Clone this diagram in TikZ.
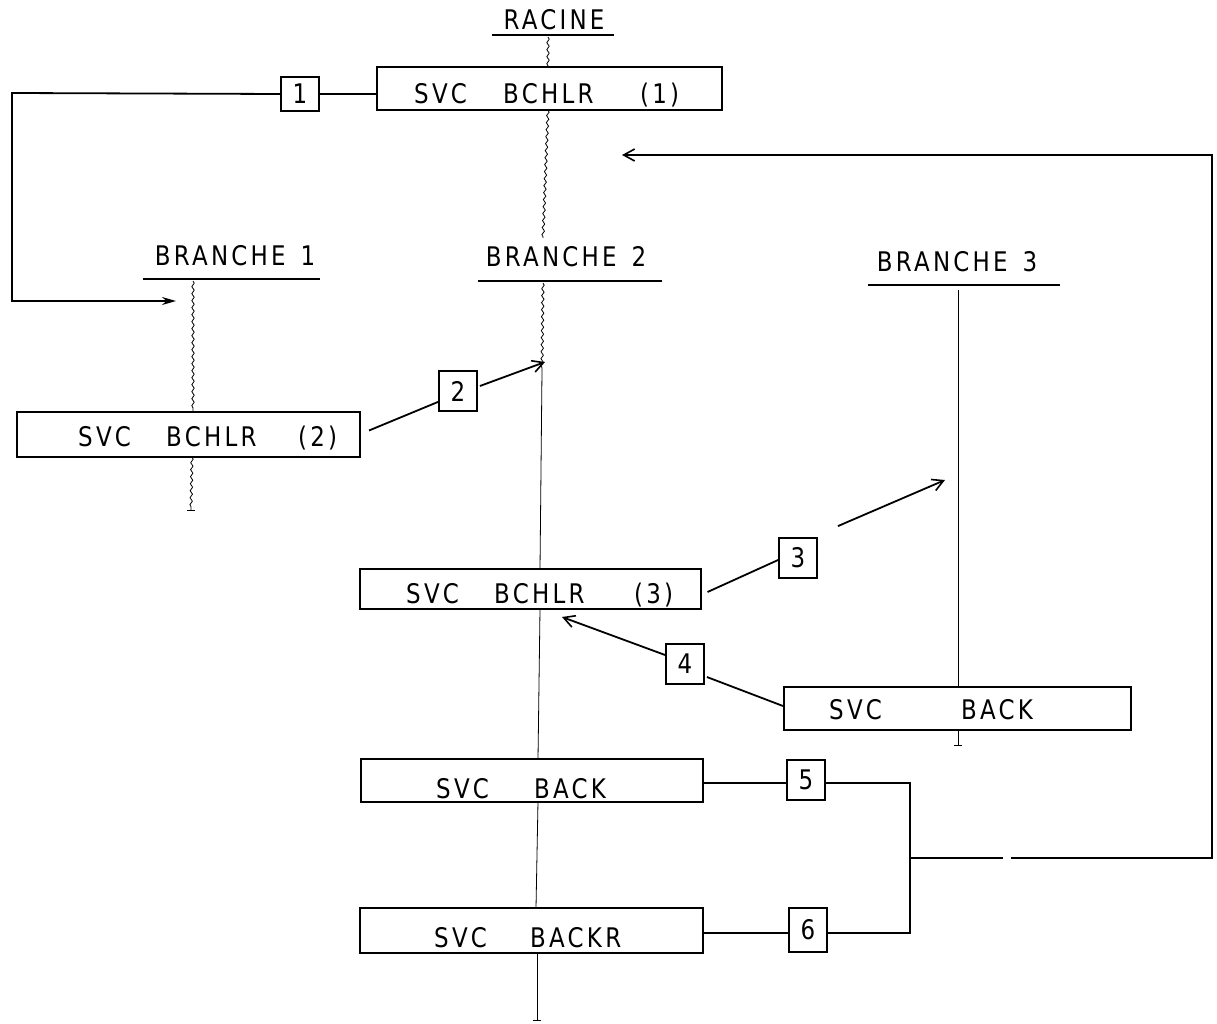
\documentclass[tikz,border=0pt]{standalone}
\usepackage{fontspec}
\newfontfamily\plotfont{DejaVu Sans}[FakeStretch=0.85, LetterSpace=12]
\usetikzlibrary{arrows.meta,decorations.pathmorphing,calc}
\begin{document}
\begin{tikzpicture}[x=1pt,y=-1pt,
  svcbox/.style={draw, line width=2pt, minimum width=345pt, minimum height=43pt, inner sep=0pt},
  numbox/.style={draw, line width=1.8pt, minimum width=38pt, minimum height=40pt, inner sep=0pt,
    font=\plotfont\fontsize{27}{27}\selectfont},
  word/.style={anchor=base west, inner sep=0pt, font=\plotfont\fontsize{27}{27}\selectfont},
  lbl/.style={inner sep=0pt, font=\plotfont\fontsize{27}{27}\selectfont},
  uline/.style={line width=2.2pt},
  conn/.style={line width=1.8pt},
  life/.style={line width=0.8pt},
  wavy/.style={life, decorate, decoration={snake, amplitude=1.2pt, segment length=7pt}},
  openarrow/.style={-{Straight Barb[length=11pt,width=12pt,line width=1.6pt]}},
  fillarrow/.style={-{Stealth[length=14pt,width=8pt]}}
]
\useasboundingbox (0,0) rectangle (1217,1024);

% ---------- labels ----------
\node[lbl] (racine) at (554,20) {RACINE};
\coordinate (racL) at (492,35); \coordinate (racR) at (614,35);
\draw[uline] (racL) -- (racR);

\node[lbl] (br1) at (235,256) {BRANCHE\hspace{0.55em}1};
\coordinate (br1L) at (143,279); \coordinate (br1R) at (320,279);
\draw[uline] (br1L) -- (br1R);

\node[lbl] (br2) at (566,257) {BRANCHE\hspace{0.55em}2};
\coordinate (br2L) at (478,281); \coordinate (br2R) at (662,281);
\draw[uline] (br2L) -- (br2R);

\node[lbl] (br3) at (957,262) {BRANCHE\hspace{0.55em}3};
\coordinate (br3L) at (868,285); \coordinate (br3R) at (1060,285);
\draw[uline] (br3L) -- (br3R);

% ---------- SVC boxes ----------
\node[svcbox] (b1) at (549.5,88.5) {};
\node[word] (b1a) at (414,104) {SVC};
\node[word] (b1b) at (503,104) {BCHLR};
\node[word] (b1c) at (640,104) {(1)};

\node[svcbox, minimum width=343pt, minimum height=45pt] (b2) at (188.5,434.5) {};
\node[word] (b2a) at (78,446) {SVC};
\node[word] (b2b) at (166,446) {BCHLR};
\node[word] (b2c) at (298,446) {(2)};

\node[svcbox, minimum width=341pt, minimum height=40pt] (b3) at (530,589) {};
\node[word] (b3a) at (406,603) {SVC};
\node[word] (b3b) at (494,603) {BCHLR};
\node[word] (b3c) at (634,603) {(3)};

\node[svcbox, minimum width=347pt] (bk3) at (957.5,708) {};
\node[word] (bk3a) at (829,719) {SVC};
\node[word] (bk3b) at (961,719) {BACK};

\node[svcbox, minimum width=342pt] (bk2) at (532,780) {};
\node[word] (bk2a) at (436,798) {SVC};
\node[word] (bk2b) at (534,798) {BACK};

\node[svcbox, minimum width=343pt, minimum height=45pt] (bkr) at (531,930) {};
\node[word] (bkra) at (434,947) {SVC};
\node[word] (bkrb) at (530,947) {BACKR};

% ---------- numbered boxes ----------
\node[numbox, minimum width=38pt, minimum height=34pt] (n1) at (300,94) {1};
\node[numbox] (n2) at (458,391) {2};
\node[numbox] (n3) at (798,558) {3};
\node[numbox] (n4) at (685,664) {4};
\node[numbox] (n5) at (806,780) {5};
\node[numbox, minimum height=44pt] (n6) at (808,930) {6};

% ---------- life lines ----------
\coordinate (racTop) at (548,37);
\draw[wavy] (racTop) -- (b1.north -| racTop);
\coordinate (b1bot) at (548,110);
\coordinate (br2pre) at (543,238);
\draw[wavy] (b1bot) -- (br2pre);

\coordinate (br1top) at (193,281);
\draw[wavy] (br1top) -- (b2.north -| br1top);
\coordinate (b2bot) at (192,457);
\coordinate (br1end) at (191,510);
\draw[wavy] (b2bot) -- (br1end);
\draw[life] ($(br1end)+(-4,0)$) -- ($(br1end)+(4,0)$);

\coordinate (br2top) at (543,283);
\coordinate (br2w) at (542,370);
\draw[wavy] (br2top) -- (br2w);
\draw[life] (br2w) -- (540,569);
\draw[life] (540,609) -- (538,759);
\draw[life] (538,801) -- (536,908);
\coordinate (br2end) at (537,1020);
\draw[life] (537,953) -- (br2end);
\draw[life] ($(br2end)+(-4,0)$) -- ($(br2end)+(4,0)$);

\coordinate (br3top) at (958,290);
\draw[life] (br3top) -- (bk3.north -| br3top);
\coordinate (br3end) at (958,745);
\draw[life] (bk3.south -| br3top) -- (br3end);
\draw[life] ($(br3end)+(-4,0)$) -- ($(br3end)+(4,0)$);

% ---------- connectors ----------
% 1
\coordinate (c1a) at (12,93);
\coordinate (c1b) at (12,301);
\coordinate (c1c) at (176,301);
\draw[conn] (b1.west |- n1) -- (n1.east);
\draw[conn, fillarrow] (n1.west) -- (c1a) -- (c1b) -- (c1c);

% 2
\coordinate (a2) at (545,362);
\draw[conn] ($(b2.east)+(8,-4)$) -- ($(n2.south west)+(0,-10)$);
\draw[conn, openarrow] ($(n2.east)+(2,-5)$) -- (a2);

% 3
\coordinate (a3) at (945,480);
\draw[conn] ($(b3.east)+(6,3)$) -- ($(n3.west)+(0,2)$);
\draw[conn, openarrow] ($(n3.north east)+(20,-11)$) -- (a3);

% 4
\coordinate (a4) at (562,617);
\draw[conn, openarrow] ($(n4.west)+(0,-9)$) -- (a4);
\draw[conn] ($(n4.east)+(2,13)$) -- ($(bk3.west)+(0,-2)$);

% 5 / 6
\coordinate (j5) at (910,783);
\coordinate (j6) at (910,933);
\coordinate (jm) at (910,858);
\coordinate (g1) at (1003,858);
\coordinate (g2) at (1011,858);
\coordinate (rc) at (1212,858);
\coordinate (rt) at (1212,155);
\coordinate (a6) at (622,155);
\draw[conn] (bk2.east |- j5) -- (n5.west |- j5);
\draw[conn] (n5.east |- j5) -- (j5) -- (j6) -- (n6.east |- j6);
\draw[conn] (bkr.east |- j6) -- (n6.west |- j6);
\draw[conn] (jm) -- (g1);
\draw[conn, openarrow] (g2) -- (rc) -- (rt) -- (a6);
\end{tikzpicture}
\end{document}
